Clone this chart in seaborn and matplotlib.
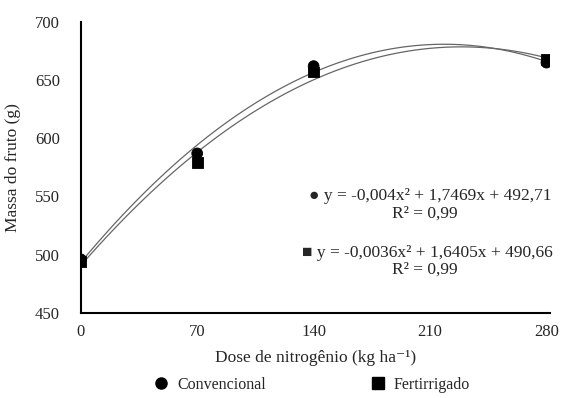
import numpy as np
import pandas as pd
import seaborn as sns
import matplotlib.pyplot as plt
from matplotlib.lines import Line2D

# dados
doses = [0, 70, 140, 280]
convencional = [496, 587, 662, 665]
fertirrigado = [494, 579, 657, 668]
x_ticks = [0, 70, 140, 210, 280]
y_ticks = [450, 500, 550, 600, 650, 700]

df = pd.DataFrame({
    'dose': doses * 2,
    'massa': convencional + fertirrigado,
    'trat': ['Convencional'] * 4 + ['Fertirrigado'] * 4,
})

sns.set_style('white')
plt.rcParams['font.family'] = ['Liberation Serif', 'DejaVu Serif']

fig = plt.figure(figsize=(5.61, 3.98), dpi=100)
ax = fig.add_axes([0.144, 0.214, 0.836, 0.731])

for trat in ['Convencional', 'Fertirrigado']:
    sub = df[df['trat'] == trat]
    sns.regplot(data=sub, x='dose', y='massa', order=2, ci=None, scatter=False,
                line_kws={'color': '#666666', 'lw': 0.9}, ax=ax)

sns.scatterplot(data=df, x='dose', y='massa', style='trat',
                markers={'Convencional': 'o', 'Fertirrigado': 's'},
                color='black', s=60, edgecolor='black', legend=False, ax=ax, zorder=3)

ax.set_xlim(0, 282)
ax.set_ylim(450, 700)
ax.set_xticks(x_ticks)
ax.set_yticks(y_ticks)
ax.tick_params(axis='y', direction='out', length=4, width=1.2, labelsize=12, pad=11)
ax.tick_params(axis='x', direction='in', length=4, width=1.2, labelsize=12, pad=8)
sns.despine(ax=ax)
for s in ['left', 'bottom']:
    ax.spines[s].set_linewidth(1.5)
    ax.spines[s].set_color('black')
ax.set_xlabel('Dose de nitrogênio (kg ha⁻¹)', fontsize=12.5, labelpad=7)
ax.set_ylabel('Massa do fruto (g)', fontsize=12.5, labelpad=10)

ax.text(0.746, 0.402, '● y = -0,004x² + 1,7469x + 492,71', transform=ax.transAxes,
        ha='center', va='center', fontsize=12.5)
ax.text(0.733, 0.340, 'R² = 0,99', transform=ax.transAxes,
        ha='center', va='center', fontsize=12.5)
ax.text(0.740, 0.206, '■ y = -0,0036x² + 1,6405x + 490,66', transform=ax.transAxes,
        ha='center', va='center', fontsize=12.5)
ax.text(0.733, 0.148, 'R² = 0,99', transform=ax.transAxes,
        ha='center', va='center', fontsize=12.5)

handles = [
    Line2D([], [], marker='o', color='black', linestyle='none', markersize=8),
    Line2D([], [], marker='s', color='black', linestyle='none', markersize=8),
]
fig.legend(handles, ['Convencional', 'Fertirrigado'], loc='center',
           bbox_to_anchor=(0.555, 0.033), ncol=2, frameon=False, fontsize=11.5,
           columnspacing=6.5, handlelength=1.0, handletextpad=0.5)

fig.savefig('out.png', dpi=100)
